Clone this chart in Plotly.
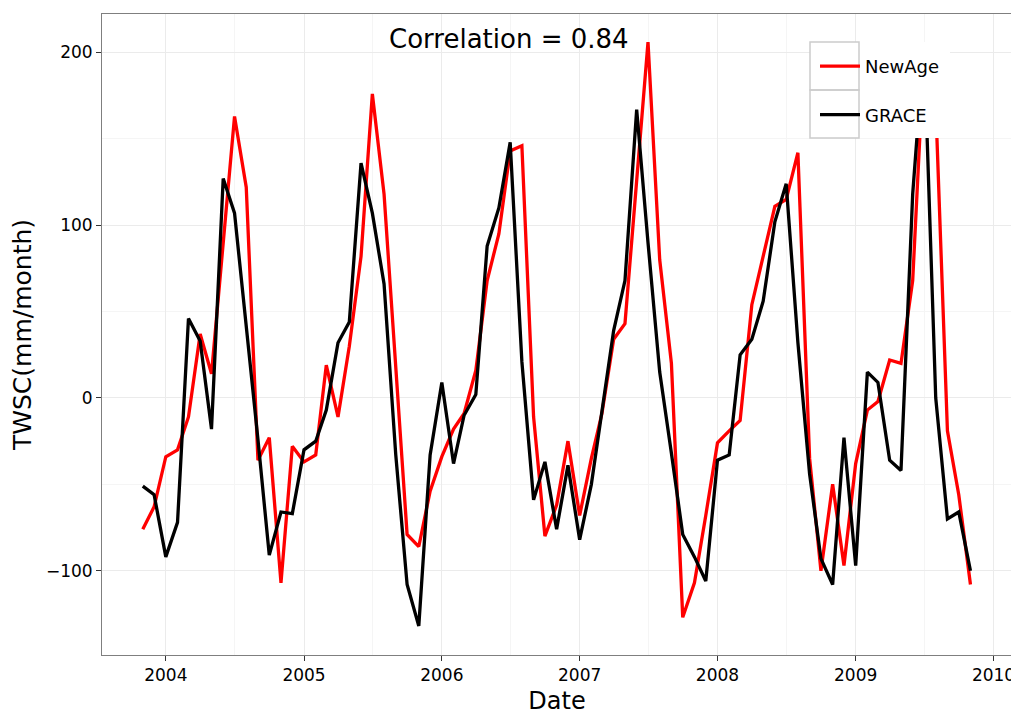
import pandas as pd
import plotly.graph_objects as go

# monthly series, Nov 2003 - Nov 2009
dates = pd.date_range("2003-11-01", periods=73, freq="MS")

newage = [
    -76, -63,
    -34, -30, -11, 37, 14, 90, 163, 122, -36, -23, -107, -28,
    -37, -33, 19, -11, 30, 82, 176, 118, 19, -79, -86, -54,
    -34, -18, -9, 16, 68, 95, 143, 146, -11, -80, -62, -25,
    -68, -35, -9, 34, 43, 123, 206, 80, 20, -127, -107, -68,
    -26, -19, -13, 54, 82, 111, 115, 142, -35, -100, -50, -97,
    -38, -7, -2, 22, 20, 68, 200, 170, -19, -56, -108,
]

grace = [
    -51, -56,
    -92, -72, 46, 33, -18, 127, 107, 43, -24, -91, -66, -67,
    -30, -25, -7, 32, 44, 136, 107, 66, -33, -108, -132, -33,
    9, -38, -10, 2, 88, 110, 148, 21, -59, -37, -76, -39,
    -82, -50, -8, 39, 68, 167, 90, 15, -32, -79, -92, -106,
    -36, -33, 25, 34, 56, 102, 124, 32, -44, -93, -108, -23,
    -97, 15, 9, -36, -42, 118, 205, 0, -70, -66, -100,
]

corr_text = "Correlation = 0.84"

FONT = "DejaVu Sans"
OFF = 8  # page body margin
L, R, T, B = 102 - OFF, 1012 - OFF, 14 - OFF, 655 - OFF  # panel edges in pixels
W, H = R - L, B - T


def px(x):
    return (x - OFF - L) / W


def py(y):
    return (B - (y - OFF)) / H


fig = go.Figure()
fig.add_trace(go.Scatter(x=dates, y=newage, mode="lines", name="NewAge",
                         line=dict(color="#ff0000", width=3.3), legendgroup="a"))
fig.add_trace(go.Scatter(x=dates, y=grace, mode="lines", name="GRACE",
                         line=dict(color="#000000", width=3.3), legendgroup="b"))

# legend background + ggplot-style key boxes (drawn over the lines)
fig.add_shape(type="rect", xref="paper", yref="paper", layer="above",
              x0=px(810), x1=px(950), y0=py(138), y1=py(42),
              fillcolor="white", line=dict(width=0))
for top, bot in [(42, 90), (90, 138)]:
    fig.add_shape(type="rect", xref="paper", yref="paper", layer="above",
                  x0=px(810), x1=px(859), y0=py(bot), y1=py(top),
                  fillcolor="rgba(0,0,0,0)", line=dict(color="#cccccc", width=1.5))

fig.add_annotation(x="2006-06-28", y=208, text=corr_text, showarrow=False,
                   font=dict(family=FONT, size=26, color="#000000"))

fig.update_layout(
    width=1019, height=715,
    margin=dict(l=L, r=1019 - R, t=T, b=715 - B, autoexpand=False),
    paper_bgcolor="white", plot_bgcolor="white",
    font=dict(family=FONT, color="#000000"),
    showlegend=True,
    legend=dict(x=px(815), y=py(48), xanchor="left", yanchor="top",
                bgcolor="rgba(0,0,0,0)", font=dict(family=FONT, size=18),
                tracegroupgap=22, itemwidth=40),
)
fig.update_xaxes(
    range=["2003-07-16", "2010-02-19"], automargin=False,
    dtick="M12", tick0="2004-01-01", tickformat="%Y",
    showgrid=True, gridcolor="#ebebeb", gridwidth=1,
    minor=dict(dtick="M6", showgrid=True, gridcolor="#f5f5f5", ticks=""),
    showline=True, linecolor="#7f7f7f", linewidth=1, mirror=True,
    ticks="outside", ticklen=5, tickcolor="#333333",
    tickfont=dict(family=FONT, size=17, color="#000000"),
    title=dict(text="Date", font=dict(family=FONT, size=24), standoff=7),
    zeroline=False,
)
fig.update_yaxes(
    range=[-148.8, 222.3], automargin=False,
    tickvals=[-100, 0, 100, 200],
    showgrid=True, gridcolor="#ebebeb", gridwidth=1,
    minor=dict(tickvals=[-50, 50, 150], showgrid=True, gridcolor="#f5f5f5", ticks=""),
    showline=True, linecolor="#7f7f7f", linewidth=1, mirror=True,
    ticks="outside", ticklen=5, tickcolor="#333333",
    tickfont=dict(family=FONT, size=17, color="#000000"),
    title=dict(text="TWSC(mm/month)", font=dict(family=FONT, size=25), standoff=11),
    zeroline=False,
)

fig.write_html("out.html")
